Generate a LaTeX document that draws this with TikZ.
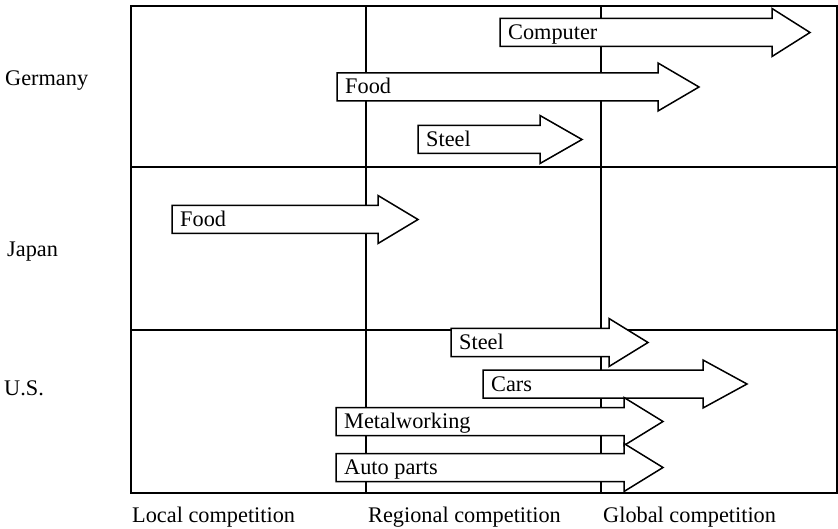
\documentclass[tikz,border=0pt]{standalone}
\usepackage{fontspec}
\setmainfont{Liberation Serif}
\begin{document}
\begin{tikzpicture}[x=1pt,y=-1pt,
  frame/.style={line width=2pt},
  gridline/.style={line width=1.3pt},
  arrowbox/.style={draw=black,fill=white,line width=1.5pt,line join=miter},
  lbl/.style={anchor=base west,inner sep=0pt,font=\fontsize{22.3}{26}\selectfont},
  rowlbl/.style={anchor=base west,inner sep=0pt,font=\fontsize{22.3}{26}\selectfont}]
\useasboundingbox (0,0) rectangle (838,529);
\newcommand\garrow[6]{%
  \draw[arrowbox] (#2,#5-14) -- (#3,#5-14) -- (#3,#5-24) -- (#4,#5) -- (#3,#5+24) -- (#3,#5+14) -- (#2,#5+14) -- cycle;
  \node[lbl] (#1) at (#2+8,#5+7) {#6};}
% grid
\coordinate (tl) at (131,6);
\coordinate (br) at (837,493);
\draw[gridline] (366,6) -- (366,493);
\draw[gridline] (601,6) -- (601,493);
\draw[gridline] (131,167) -- (837,167);
\draw[gridline] (131,330) -- (837,330);
\draw[frame] (tl) rectangle (br);
% Germany
\garrow{computer}{500}{772}{810}{32.5}{Computer}
\garrow{gfood}{337}{658}{699}{87}{Food}
\garrow{gsteel}{418}{540}{582}{139.5}{Steel}
% Japan
\garrow{jfood}{172}{378}{418}{219.5}{Food}
% U.S.
\garrow{usteel}{451}{609}{648}{342.5}{Steel}
\garrow{cars}{483}{703}{747}{384}{Cars}
\garrow{metal}{336}{624}{663}{421.5}{Metalworking}
\garrow{auto}{336}{624}{663}{467.5}{Auto parts}
% row labels
\node[rowlbl] (germany) at (5,86) {Germany};
\node[rowlbl] (japan) at (7,257) {Japan};
\node[rowlbl] (us) at (4,395) {U.S.};
% column labels
\node[rowlbl] (local) at (132,522) {Local competition};
\node[rowlbl] (regional) at (368,522) {Regional competition};
\node[rowlbl] (global) at (603,522) {Global competition};
\end{tikzpicture}
\end{document}
